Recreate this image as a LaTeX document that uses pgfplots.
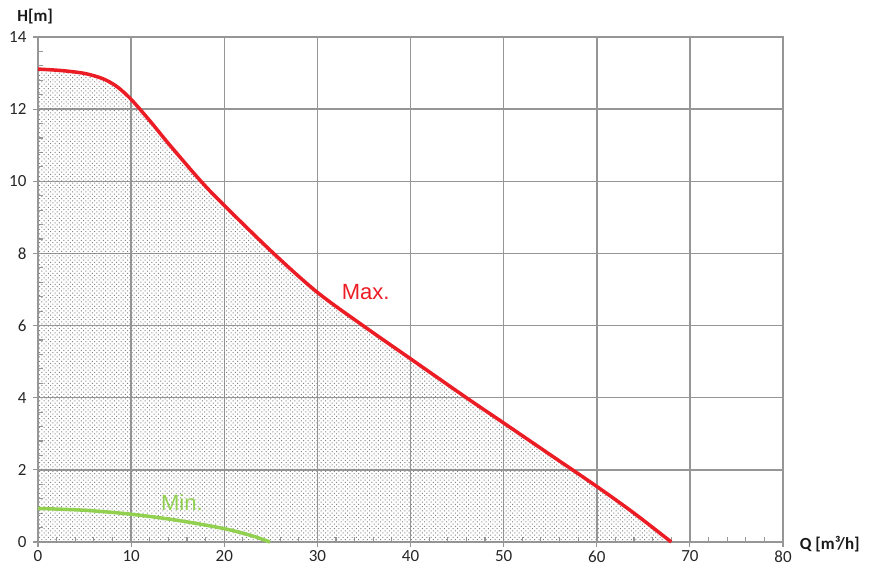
\documentclass[border=0pt]{standalone}
\usepackage{pgfplots}
\pgfplotsset{compat=1.18}
\usepackage{fontspec}
\setmainfont{Carlito}
\newfontfamily\arialfont{Liberation Sans}
\usetikzlibrary{patterns}
\pgfdeclarepatternformonly{sdots}{\pgfqpoint{-0.5pt}{-0.5pt}}{\pgfqpoint{2.7pt}{2.7pt}}{\pgfqpoint{4.4pt}{4.4pt}}{%
  \pgfpathrectangle{\pgfqpoint{-0.5pt}{-0.5pt}}{\pgfqpoint{1pt}{1pt}}%
  \pgfpathrectangle{\pgfqpoint{1.7pt}{1.7pt}}{\pgfqpoint{1pt}{1pt}}%
  \pgfusepath{fill}}
\definecolor{maxred}{RGB}{236,28,36}
\definecolor{mingreen}{RGB}{146,208,80}
\definecolor{gridgray}{RGB}{150,150,150}
\begin{document}
\begin{tikzpicture}
\begin{axis}[
  at={(0,0)}, anchor=south west,
  scale only axis, width=745pt, height=505pt,
  xmin=0, xmax=80, ymin=0, ymax=14,
  xtick={0,10,...,80}, ytick={0,2,...,14},
  minor x tick num=4, minor y tick num=4,
  tick pos=left,
  grid=major,
  major grid style={gridgray, line width=1.5pt},
  axis line style={gridgray, line width=1.5pt},
  tick style={gridgray, line width=1.2pt},
  tick align=outside,
  major tick length=5pt, minor tick length=5pt,
  minor x tick style={yshift=5pt},
  minor y tick style={xshift=5pt},
  /pgf/number format/assume math mode=true,
  ticklabel style={font=\fontsize{17}{19}\selectfont, black!85},
  yticklabel style={xshift=-3pt},
  clip=false,
]
\addplot[draw=none, pattern=sdots, pattern color=black!50, smooth] coordinates {
(0,13.11) (2.5,13.07) (5,12.99) (7,12.84) (8.5,12.62) (10,12.27) (12,11.68) (14,11.05) (17.5,10.0) (20,9.33) (25.3,8.0) (30,6.92) (35,5.98) (40,5.08) (46,4.0) (50,3.3) (55,2.42) (60,1.54) (64,0.8) (68,0)
} \closedcycle;
\addplot[maxred, line width=3.5pt, smooth] coordinates {
(0,13.11) (2.5,13.07) (5,12.99) (7,12.84) (8.5,12.62) (10,12.27) (12,11.68) (14,11.05) (17.5,10.0) (20,9.33) (25.3,8.0) (30,6.92) (35,5.98) (40,5.08) (46,4.0) (50,3.3) (55,2.42) (60,1.54) (64,0.8) (68,0)
};
\addplot[mingreen, line width=3.5pt, smooth] coordinates {
(0,0.93) (5,0.88) (10,0.77) (15,0.6) (20,0.37) (23,0.17) (24.9,0)
};
\node[anchor=west, maxred, font=\arialfont\fontsize{22}{24}\selectfont, inner sep=0pt] at (axis cs:32.6,6.93) {Max.};
\node[anchor=west, mingreen, font=\arialfont\fontsize{22}{24}\selectfont, inner sep=0pt] at (axis cs:13.2,1.1) {Min.};
\node[font=\bfseries\fontsize{17}{19}\selectfont, black!90, inner sep=0pt] at (axis cs:-0.3,14.58) {H[m]};
\node[anchor=west, font=\bfseries\fontsize{17}{19}\selectfont, black!90, inner sep=0pt] at (axis cs:81.8,-0.05) {Q [m³/h]};
\end{axis}
\pgfresetboundingbox
\path[use as bounding box] (-38pt,-35pt) rectangle (837pt,542pt);
\end{tikzpicture}
\end{document}
